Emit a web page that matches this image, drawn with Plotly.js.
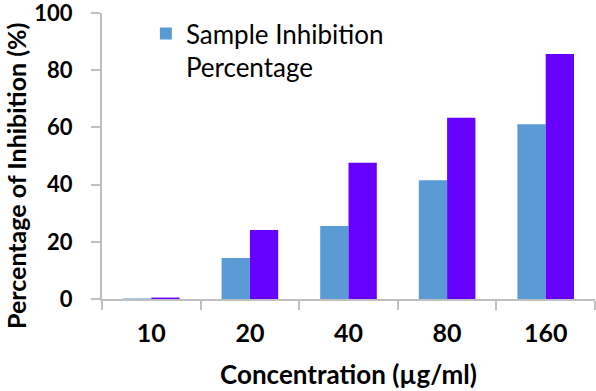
<!DOCTYPE html>
<html>
<head>
<meta charset="utf-8">
<script src="https://cdn.plot.ly/plotly-3.0.1.min.js"></script>
<style>
  html, body { margin: 0; padding: 0; background: #fff; }
  #chart { width: 596px; height: 391px; }
</style>
</head>
<body>
<div id="chart"></div>
<script>
// Concentrations tested (µg/ml)
const concentrations = ['10', '20', '40', '80', '160'];
// Inhibition (%) for the sample and for the reference standard
const sampleInhibition = [0.2, 14.3, 25.5, 41.5, 61.1];
const standardInhibition = [0.5, 24.1, 47.6, 63.4, 85.7];
const yTicks = [0, 20, 40, 60, 80, 100];

const FONT = 'Lato, "Open Sans", sans-serif';
const AXIS_GREY = '#BFBFBF';

const traces = [
  {
    type: 'bar',
    name: 'Sample Inhibition<br>Percentage',
    x: concentrations,
    y: sampleInhibition,
    marker: { color: '#5B9BD5' },
    hoverinfo: 'x+y'
  },
  {
    type: 'bar',
    name: 'Standard',
    x: concentrations,
    y: standardInhibition,
    marker: { color: '#6600FF' },
    showlegend: false,
    hoverinfo: 'x+y'
  }
];

const layout = {
  width: 596,
  height: 391,
  margin: { l: 102, r: 1, t: 13, b: 92 },
  paper_bgcolor: '#ffffff',
  plot_bgcolor: '#ffffff',
  font: { family: FONT, color: '#000000' },
  barmode: 'group',
  bargap: 0.426,
  bargroupgap: 0,
  showlegend: true,
  legend: {
    x: 0.089, y: 1.01, xanchor: 'left', yanchor: 'top',
    bgcolor: 'rgba(0,0,0,0)',
    valign: 'top',
    font: { family: FONT, size: 26, color: '#000000' }
  },
  xaxis: {
    type: 'category',
    tickson: 'boundaries',
    ticks: 'outside',
    ticklen: 9,
    tickwidth: 2,
    tickcolor: AXIS_GREY,
    showline: true,
    linecolor: AXIS_GREY,
    linewidth: 2,
    showgrid: false,
    zeroline: false,
    ticklabelstandoff: 11,
    tickfont: { family: FONT, size: 25, weight: 'bold', color: '#000000' },
    title: {
      text: 'Concentration (µg/ml)',
      standoff: 20,
      font: { family: FONT, size: 26, weight: 'bold', color: '#000000' }
    }
  },
  yaxis: {
    range: [0, 100],
    tickvals: yTicks,
    ticktext: yTicks.map(String),
    ticks: 'outside',
    ticklen: 9,
    tickwidth: 2,
    tickcolor: AXIS_GREY,
    showline: true,
    linecolor: AXIS_GREY,
    linewidth: 2,
    showgrid: false,
    zeroline: false,
    ticklabeloverflow: 'allow',
    ticklabelstandoff: 14,
    tickfont: { family: FONT, size: 22, weight: 'bold', color: '#000000' }
  },
  annotations: [
    {
      text: 'Percentage of Inhibition (%)',
      textangle: -90,
      xref: 'paper', yref: 'paper',
      x: (16 - 102) / 493, y: (299 - 176) / 286,
      xanchor: 'center', yanchor: 'middle',
      showarrow: false,
      font: { family: FONT, size: 25, weight: 'bold', color: '#000000' }
    }
  ]
};

Plotly.newPlot('chart', traces, layout, { displayModeBar: false, staticPlot: true });
</script>
</body>
</html>
